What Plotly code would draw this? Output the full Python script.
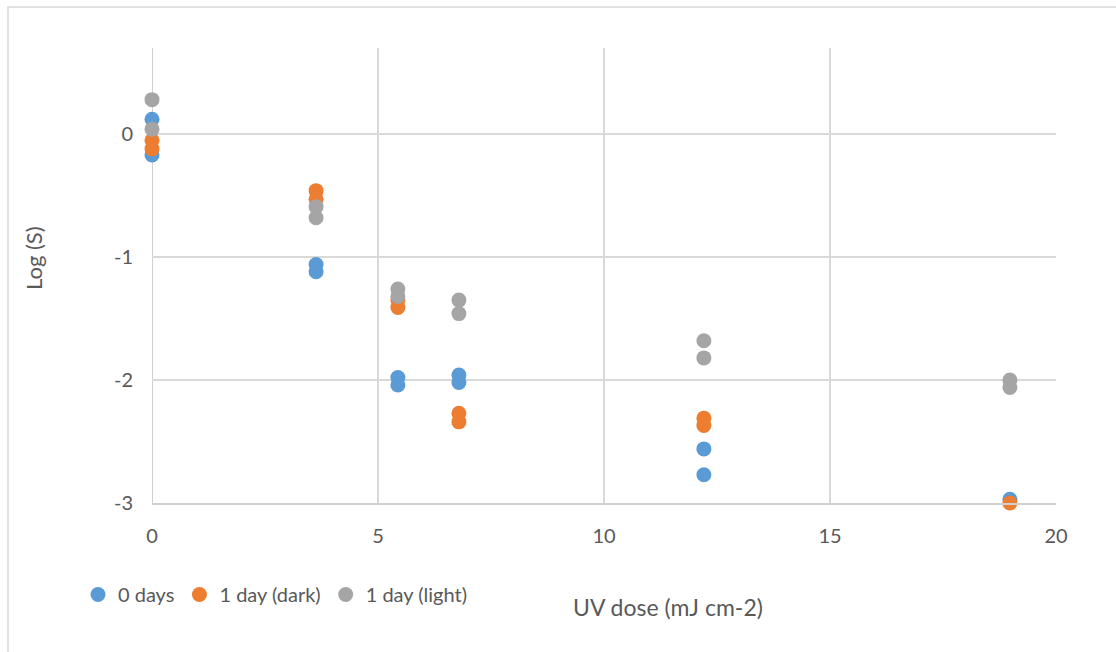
import plotly.graph_objects as go

# UV dose (mJ cm-2) and log survival for each storage condition
dose_0d = [0, 0, 3.63, 3.63, 5.44, 5.44, 6.79, 6.79, 12.21, 12.21, 18.98]
logs_0d = [0.12, -0.17, -1.06, -1.12, -1.98, -2.04, -1.96, -2.02, -2.56, -2.77, -2.97]

dose_dark = [0, 0, 3.63, 3.63, 5.44, 5.44, 6.79, 6.79, 12.21, 12.21, 18.98]
logs_dark = [-0.05, -0.12, -0.46, -0.53, -1.35, -1.41, -2.27, -2.34, -2.31, -2.37, -3.0]

dose_light = [0, 0, 3.63, 3.63, 5.44, 5.44, 6.79, 6.79, 12.21, 12.21, 18.98, 18.98]
logs_light = [0.28, 0.04, -0.59, -0.68, -1.26, -1.32, -1.35, -1.46, -1.68, -1.82, -2.0, -2.06]

x_ticks = [0, 5, 10, 15, 20]
y_ticks = [-3, -2, -1, 0]
y_tick_labels = ["-3", "-2", "-1", "0"]

series = [
    ("0 days", dose_0d, logs_0d, "#5B9BD5"),
    ("1 day (dark)", dose_dark, logs_dark, "#ED7D31"),
    ("1 day (light)", dose_light, logs_light, "#A5A5A5"),
]

FONT = "Lato, 'Open Sans', sans-serif"
TXT = "#595959"

fig = go.Figure()
for name, xs, ys, col in series:
    fig.add_trace(go.Scatter(
        x=xs, y=ys, mode="markers", name=name, cliponaxis=False,
        marker=dict(color=col, size=15, line=dict(width=0)),
    ))

fig.update_layout(
    width=1116, height=652,
    margin=dict(l=152, r=60, t=48, b=149),
    paper_bgcolor="white", plot_bgcolor="white",
    font=dict(family=FONT, color=TXT, size=20),
    showlegend=True,
    legend=dict(
        orientation="h", x=(78 - 152) / 904, y=(503 - 575) / 455,
        xanchor="left", yanchor="top",
        font=dict(size=20, color=TXT), itemwidth=30, tracegroupgap=0,
        bgcolor="rgba(0,0,0,0)",
    ),
    xaxis=dict(
        range=[0, 20.0001], tickvals=x_ticks, showgrid=True, gridcolor="#D9D9D9",
        gridwidth=1.5, zeroline=False, showline=True, linecolor="#D0D0D0",
        linewidth=1.5, ticks="", ticklabelstandoff=14,
        tickfont=dict(size=20, color=TXT),
    ),
    yaxis=dict(
        range=[-3, 0.7], tickvals=y_ticks, ticktext=y_tick_labels,
        showgrid=True, gridcolor="#D9D9D9",
        gridwidth=1.5, zeroline=False, showline=False, ticks="",
        ticklabelstandoff=18, tickfont=dict(size=20, color=TXT),
    ),
    shapes=[
        # y axis line drawn at x = 0
        dict(type="line", xref="x", yref="paper", x0=0, x1=0, y0=0, y1=1,
             line=dict(color="#BFBFBF", width=1.5), layer="below"),
        # chart frame
        dict(type="rect", xref="paper", yref="paper",
             x0=(8 - 152) / 904, x1=(1125 - 152) / 904,
             y0=(503 - 660) / 455, y1=1 + (48 - 7) / 455,
             line=dict(color="#D9D9D9", width=1.5)),
    ],
    annotations=[
        dict(text="UV dose (mJ cm-2)", xref="paper", yref="paper",
             x=(668 - 152) / 904, y=(503 - 607) / 455, showarrow=False,
             xanchor="center", yanchor="middle", font=dict(size=23, color=TXT)),
        dict(text="Log (S)", xref="paper", yref="paper",
             x=(33 - 152) / 904, y=(503 - 258) / 455, showarrow=False,
             textangle=-90, xanchor="center", yanchor="middle",
             font=dict(size=22, color=TXT)),
    ],
)

fig.write_html("out.html")
